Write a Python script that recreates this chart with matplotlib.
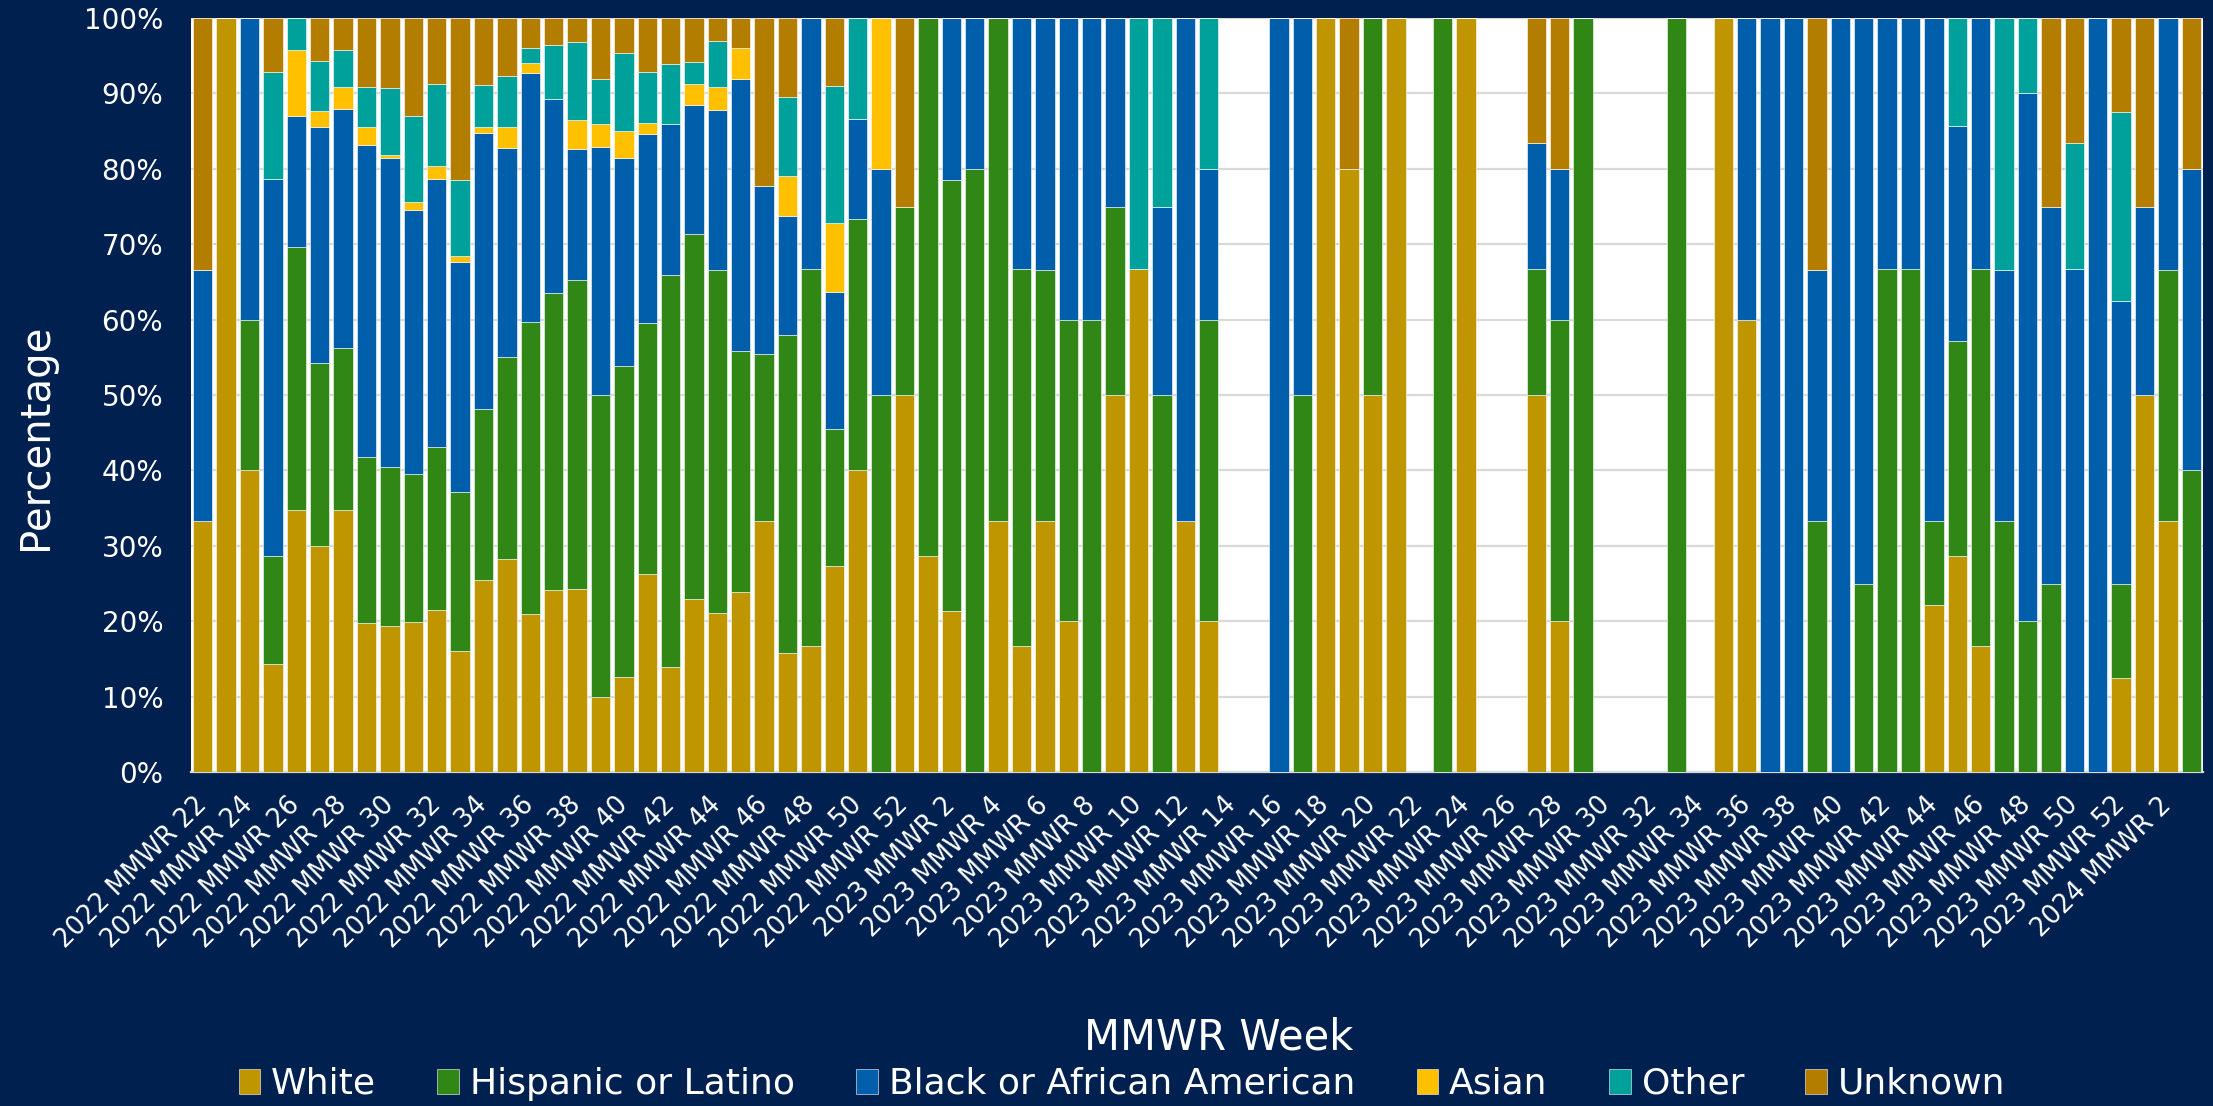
import numpy as np
import matplotlib.pyplot as plt
from matplotlib.ticker import PercentFormatter

# MMWR weeks: 2022 W22 .. 2024 W3
weeks = ([f"2022 MMWR {w}" for w in range(22, 53)]
         + [f"2023 MMWR {w}" for w in range(1, 53)]
         + [f"2024 MMWR {w}" for w in range(1, 4)])

# percentages per week
white = [33.3, 100, 40, 14.3, 34.8, 30, 34.7, 19.7, 19.3, 19.9, 21.5, 16.1, 25.4, 28.2,
         21.0, 24.2, 24.3, 9.9, 12.6, 26.3, 13.9, 22.9, 21.1, 23.9, 33.3, 15.8, 16.7,
         27.3, 40, 0, 50,
         28.6, 21.4, 0, 33.3, 16.7, 33.3, 20, 0, 50, 66.7, 0, 33.3, 20, 0, 0, 0, 0, 100,
         80, 50, 100, 0, 0, 100, 0, 0, 50, 20, 0, 0, 0, 0, 0, 0, 100, 60, 0, 0, 0, 0, 0,
         0, 0, 22.2, 28.6, 16.7, 0, 0, 0, 0, 0, 12.5,
         50, 33.3, 0]
hispanic = [0, 0, 20, 14.3, 34.8, 24.3, 21.5, 22.1, 21.1, 19.6, 21.6, 21.0, 22.8, 26.9,
            38.7, 39.3, 40.9, 40.1, 41.3, 33.3, 52.0, 48.5, 45.5, 32.0, 22.2, 42.1, 50,
            18.2, 33.3, 50, 25,
            71.4, 57.1, 80, 66.7, 50, 33.3, 40, 60, 25, 0, 50, 0, 40, 0, 0, 0, 50, 0,
            0, 50, 0, 0, 100, 0, 0, 0, 16.7, 40, 100, 0, 0, 0, 100, 0, 0, 0, 0, 0, 33.3,
            0, 25, 66.7, 66.7, 11.1, 28.6, 50, 33.3, 20, 25, 0, 0, 12.5,
            0, 33.3, 40]
black = [33.3, 0, 40, 50, 17.4, 31.2, 31.7, 41.3, 41.0, 35.1, 35.6, 30.5, 36.6, 27.7,
         33.0, 25.7, 17.4, 32.9, 27.5, 25.0, 20.0, 17.1, 21.2, 36.0, 22.2, 15.8, 33.3,
         18.2, 13.3, 30, 0,
         0, 21.5, 20, 0, 33.3, 33.4, 40, 40, 25, 0, 25, 66.7, 20, 0, 0, 100, 50, 0,
         0, 0, 0, 0, 0, 0, 0, 0, 16.7, 20, 0, 0, 0, 0, 0, 0, 0, 40, 100, 100, 33.3,
         100, 75, 33.3, 33.3, 66.7, 28.5, 33.3, 33.3, 70, 50, 66.7, 100, 37.5,
         25, 33.4, 40]
asian = [0, 0, 0, 0, 8.7, 2.2, 3.0, 2.4, 0.4, 1.0, 1.7, 0.9, 0.7, 2.7,
         1.3, 0, 3.9, 3.0, 3.6, 1.5, 0, 2.8, 3.0, 4.1, 0, 5.3, 0,
         9.1, 0, 20, 0] + [0] * 55
other = [0, 0, 0, 14.3, 4.3, 6.6, 4.9, 5.4, 8.9, 11.4, 10.8, 10.0, 5.6, 6.8,
         2.0, 7.2, 10.3, 6.0, 10.4, 6.8, 8.0, 2.8, 6.1, 0, 0, 10.5, 0,
         18.2, 13.4, 0, 0,
         0, 0, 0, 0, 0, 0, 0, 0, 0, 33.3, 25, 0, 20, 0, 0, 0, 0, 0,
         0, 0, 0, 0, 0, 0, 0, 0, 0, 0, 0, 0, 0, 0, 0, 0, 0, 0, 0, 0, 0,
         0, 0, 0, 0, 0, 14.3, 0, 33.4, 10, 0, 16.7, 0, 25,
         0, 0, 0]
unknown = [33.4, 0, 0, 7.1, 0, 5.7, 4.2, 9.1, 9.3, 13.0, 8.8, 21.5, 8.9, 7.7,
           4.0, 3.6, 3.2, 8.1, 4.6, 7.1, 6.1, 5.9, 3.1, 4.0, 22.3, 10.5, 0,
           9.0, 0, 0, 25,
           0, 0, 0, 0, 0, 0, 0, 0, 0, 0, 0, 0, 0, 0, 0, 0, 0, 0,
           20, 0, 0, 0, 0, 0, 0, 0, 16.6, 20, 0, 0, 0, 0, 0, 0, 0, 0, 0, 0, 33.4,
           0, 0, 0, 0, 0, 0, 0, 0, 0, 25, 16.6, 0, 12.5,
           25, 0, 20]

series = ["White", "Hispanic or Latino", "Black or African American",
          "Asian", "Other", "Unknown"]
colors = ["#BF9600", "#318715", "#005EAA", "#FFC000", "#00A19A", "#B37E00"]
navy = "#002050"

plt.rcParams['font.family'] = ['DejaVu Sans']

fig = plt.figure(figsize=(22.13, 11.06), dpi=100, facecolor=navy)
W, H = 2213, 1106
ax = fig.add_axes([191 / W, 1 - 772 / H, (2203 - 191) / W, (772 - 18) / H])
ax.set_facecolor('white')

x = np.arange(len(weeks))
bottom = np.zeros(len(weeks))
for name, vals, c in zip(series, [white, hispanic, black, asian, other, unknown], colors):
    vals = np.array(vals, dtype=float)
    ax.bar(x, vals, 0.83, bottom=bottom, color=c, label=name,
           edgecolor='white', linewidth=0.4, zorder=3)
    bottom += vals

ax.set_xlim(-0.5, len(weeks) - 0.5)
ax.set_ylim(0, 100)
ax.set_yticks(np.arange(0, 101, 10))
ax.yaxis.set_major_formatter(PercentFormatter(decimals=0))
ax.grid(axis='y', color='#D9D9D9', linewidth=1.6, zorder=0)
for s in ['top', 'right', 'left']:
    ax.spines[s].set_visible(False)
ax.spines['bottom'].set_color('#D9D9D9')
ax.spines['bottom'].set_linewidth(1.6)

ax.set_xticks(x[::2])
ax.set_xticklabels(weeks[::2], rotation=45, ha='right', va='center',
                   rotation_mode='anchor')
ax.tick_params(axis='x', length=0, pad=21, labelsize=18.5, colors='white')
ax.tick_params(axis='y', length=0, pad=20, labelsize=20, colors='white')

fig.text(36 / W, 1 - 437 / H, 'Percentage', color='white', fontsize=29,
         rotation=90, ha='center', va='center')
fig.text(1219 / W, 1 - 1038 / H, 'MMWR Week', color='white', fontsize=30,
         ha='center', va='center')

fig.legend(loc='center', bbox_to_anchor=(1122 / W, 1 - 1084 / H), ncol=6,
           frameon=False, fontsize=26, labelcolor='white',
           handlelength=0.6, handleheight=0.7, handletextpad=0.3,
           columnspacing=1.7, borderaxespad=0)

fig.savefig('out.png', dpi=100, facecolor=navy)
